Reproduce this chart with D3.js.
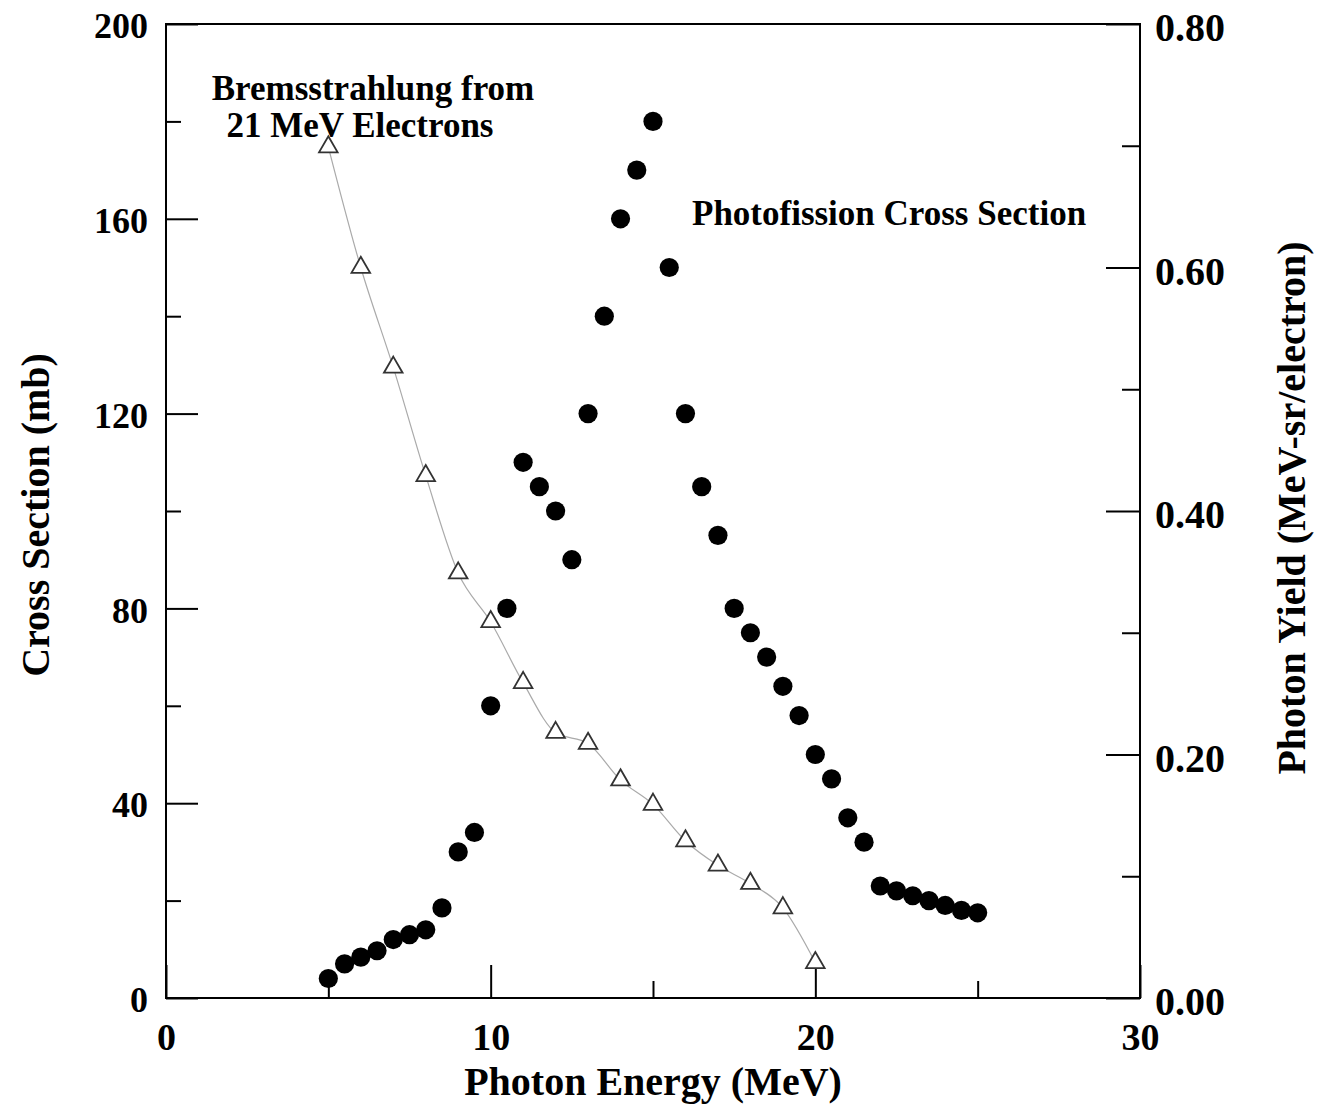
<!DOCTYPE html>
<html><head><meta charset="utf-8">
<script src="https://cdn.jsdelivr.net/npm/d3@7"></script>
<style>
body{margin:0;background:#fff}
svg{display:block;background:#fff}
text{font-family:"Liberation Serif","Times New Roman",Times,serif;font-weight:bold;fill:#000}
</style>
</head><body>
<svg id="c" width="1317" height="1108"></svg>
<script>
// Photofission cross section (mb), left axis
const energyFission = [5,5.5,6,6.5,7,7.5,8,8.5,9,9.5,10,10.5,11,11.5,12,12.5,13,13.5,14,14.5,15,15.5,16,16.5,17,17.5,18,18.5,19,19.5,20,20.5,21,21.5,22,22.5,23,23.5,24,24.5,25];
const crossSection  = [4,7,8.4,9.7,12,13,14,18.5,30,34,60,80,110,105,100,90,120,140,160,170,180,150,120,105,95,80,75,70,64,58,50,45,37,32,23,22,21,20,19,18,17.5];
// Bremsstrahlung photon yield (MeV-sr/electron), right axis
const energyBrems = [5,6,7,8,9,10,11,12,13,14,15,16,17,18,19,20];
const photonYield = [0.699,0.600,0.518,0.429,0.349,0.309,0.259,0.218,0.209,0.179,0.159,0.129,0.109,0.094,0.074,0.029];
// Ticks
const xMajorTicks = [0,10,20,30];
const xMinorTicks = [5,15,25];
const yLeftMajor = [0,40,80,120,160,200];
const yLeftMinor = [20,60,100,140,180];
const yRightMajor = [0,0.2,0.4,0.6,0.8];
const yRightMinor = [0.1,0.3,0.5,0.7];

const svg = d3.select("#c");
const L = 166, R = 1140, T = 24, B = 998;
const x = d3.scaleLinear().domain([0,30]).range([L,R]);
const yL = d3.scaleLinear().domain([0,200]).range([B,T]);
const yR = d3.scaleLinear().domain([0,0.8]).range([B,T]);

function styleAxis(g, fs){
  g.select(".domain").remove();
  g.selectAll(".tick line").attr("stroke","#000").attr("stroke-width",2);
  g.selectAll(".tick text").attr("fill","#000").style("font-size",fs+"px")
    .attr("font-family",null);
  g.attr("font-family",null).attr("font-size",null);
}

// bottom axis
svg.append("g").attr("transform",`translate(0,${B})`)
  .call(d3.axisBottom(x).tickValues(xMajorTicks).tickSize(-33).tickPadding(25).tickFormat(d3.format("d")))
  .call(g=>styleAxis(g,38));
svg.append("g").attr("transform",`translate(0,${B})`)
  .call(d3.axisBottom(x).tickValues(xMinorTicks).tickSize(-17).tickFormat(""))
  .call(g=>styleAxis(g,38));

// left axis
svg.append("g").attr("transform",`translate(${L},0)`)
  .call(d3.axisLeft(yL).tickValues(yLeftMajor).tickSize(-32).tickPadding(18).tickFormat(d3.format("d")))
  .call(g=>styleAxis(g,36))
  .call(g=>g.selectAll(".tick text").attr("dy","0.38em"));
svg.append("g").attr("transform",`translate(${L},0)`)
  .call(d3.axisLeft(yL).tickValues(yLeftMinor).tickSize(-15).tickFormat(""))
  .call(g=>styleAxis(g,36));

// right axis
svg.append("g").attr("transform",`translate(${R},0)`)
  .call(d3.axisRight(yR).tickValues(yRightMajor).tickSize(-34).tickPadding(15).tickFormat(d3.format(".2f")))
  .call(g=>styleAxis(g,40))
  .call(g=>g.selectAll(".tick text").attr("dy","0.42em"));
svg.append("g").attr("transform",`translate(${R},0)`)
  .call(d3.axisRight(yR).tickValues(yRightMinor).tickSize(-18).tickFormat(""))
  .call(g=>styleAxis(g,40));

// frame
svg.append("rect").attr("x",L).attr("y",T).attr("width",R-L).attr("height",B-T)
  .attr("fill","none").attr("stroke","#000").attr("stroke-width",2);

// bremsstrahlung line
const bremsData = energyBrems.map((e,i)=>[e,photonYield[i]]);
svg.append("path").datum(bremsData)
  .attr("fill","none").attr("stroke","#aaaaaa").attr("stroke-width",1.2)
  .attr("d", d3.line().x(d=>x(d[0])).y(d=>yR(d[1])).curve(d3.curveMonotoneX));

svg.append("g").selectAll("path").data(bremsData).join("path")
  .attr("transform",d=>`translate(${x(d[0])},${yR(d[1])})`)
  .attr("d", d3.symbol(d3.symbolTriangle, 150)())
  .attr("fill","#fff").attr("stroke","#333").attr("stroke-width",1.8);

// photofission points
const fissionData = energyFission.map((e,i)=>[e,crossSection[i]]);
svg.append("g").selectAll("circle").data(fissionData).join("circle")
  .attr("cx",d=>x(d[0])).attr("cy",d=>yL(d[1])).attr("r",9.6).attr("fill","#000");

// axis titles
svg.append("text").attr("x",653).attr("y",1095).attr("text-anchor","middle")
  .style("font-size","40px").text("Photon Energy (MeV)");
svg.append("text").attr("transform","translate(49,515) rotate(-90)").attr("text-anchor","middle")
  .style("font-size","40px").text("Cross Section (mb)");
svg.append("text").attr("transform","translate(1305,508) rotate(-90)").attr("text-anchor","middle")
  .style("font-size","40px").text("Photon Yield (MeV-sr/electron)");

// annotations
svg.append("text").attr("x",373).attr("y",100).attr("text-anchor","middle")
  .style("font-size","35px").text("Bremsstrahlung from");
svg.append("text").attr("x",360).attr("y",137).attr("text-anchor","middle")
  .style("font-size","35px").text("21 MeV Electrons");
svg.append("text").attr("x",692).attr("y",225).attr("text-anchor","start")
  .style("font-size","35px").text("Photofission Cross Section");
</script>
</body></html>
